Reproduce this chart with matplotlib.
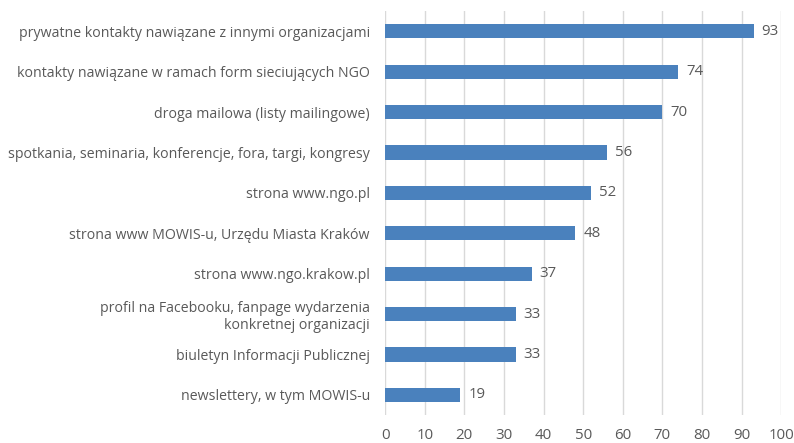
import matplotlib
matplotlib.use("Agg")
import matplotlib.pyplot as plt

plt.rcParams["font.family"] = ["Open Sans", "DejaVu Sans"]

labels = [
    "prywatne kontakty nawiązane z innymi organizacjami",
    "kontakty nawiązane w ramach form sieciujących NGO",
    "droga mailowa (listy mailingowe)",
    "spotkania, seminaria, konferencje, fora, targi, kongresy",
    "strona www.ngo.pl",
    "strona www MOWIS-u, Urzędu Miasta Kraków",
    "strona www.ngo.krakow.pl",
    "profil na Facebooku, fanpage wydarzenia\nkonkretnej organizacji",
    "biuletyn Informacji Publicznej",
    "newslettery, w tym MOWIS-u",
]
values = [93, 74, 70, 56, 52, 48, 37, 33, 33, 19]
xticks = list(range(0, 101, 10))

text_color = "#595959"

fig = plt.figure(figsize=(7.94, 4.43), dpi=100)
ax = fig.add_axes([0.485, 0.063, 0.499, 0.912])

ypos = list(range(len(values)))
ax.barh(ypos, values, height=0.35, color="#4A81BD", zorder=3)
for y, v in zip(ypos, values):
    ax.text(v + 2.0, y, str(v), va="center", ha="left", fontsize=10.8, color=text_color)

ax.set_yticks(ypos)
ax.set_yticklabels(labels, fontsize=10.2, color=text_color)
ax.set_ylim(len(values) - 0.5, -0.5)
ax.set_xlim(0, 100)
ax.set_xticks(xticks)
ax.tick_params(axis="x", labelsize=10.8, labelcolor=text_color, length=0, pad=9)
ax.tick_params(axis="y", length=0, pad=11)
ax.grid(axis="x", color="#D9D9D9", linewidth=1, zorder=0)
for s in ax.spines.values():
    s.set_visible(False)

fig.savefig("out.png", dpi=100)
